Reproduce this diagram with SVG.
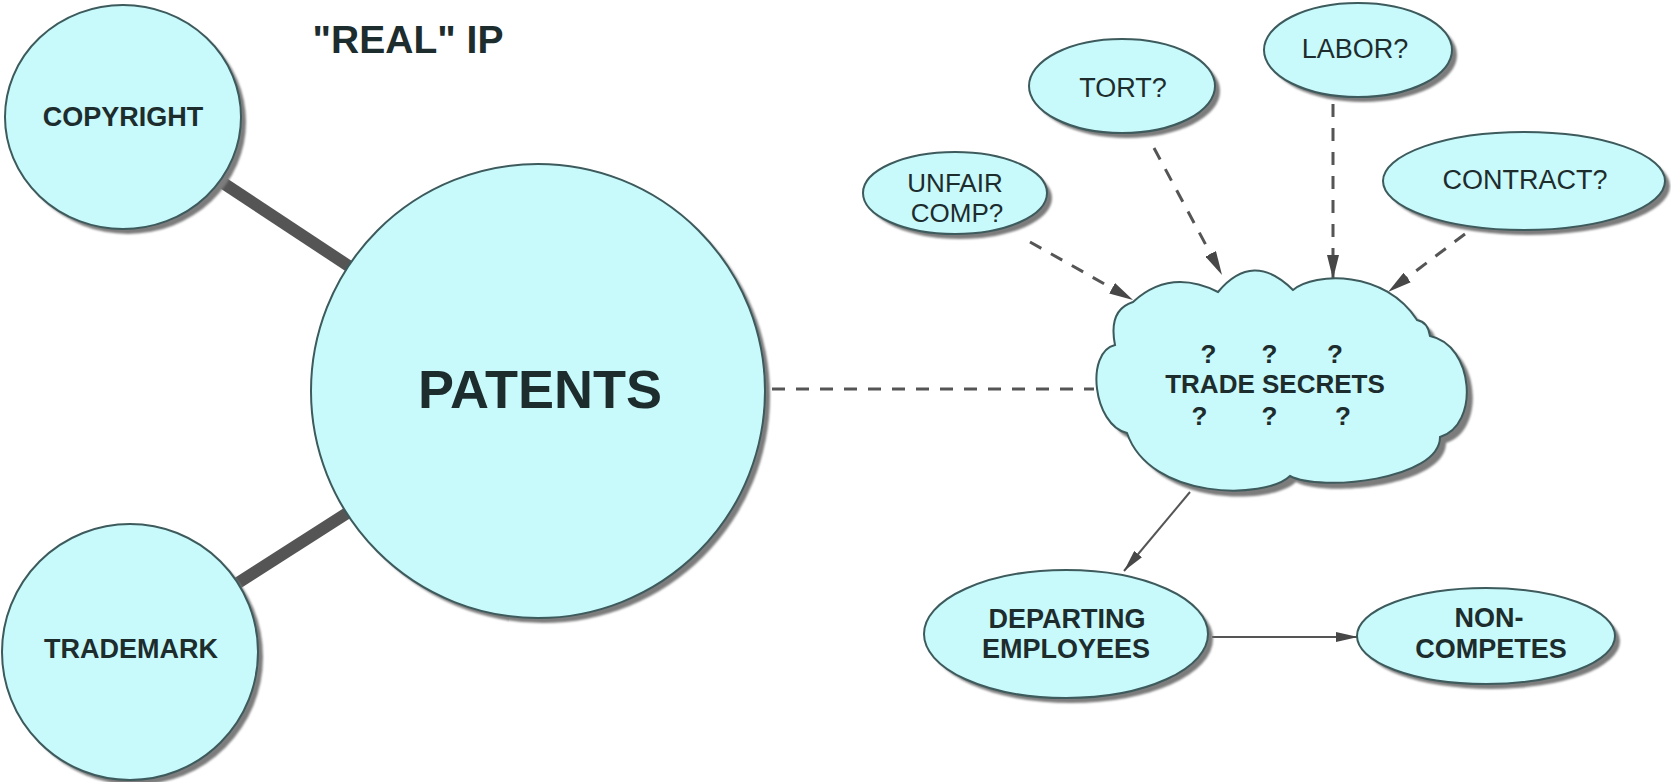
<svg xmlns="http://www.w3.org/2000/svg" width="1671" height="782" viewBox="0 0 1671 782">
  <style>
    .node { fill: #c8f9fb; stroke: #3d5a5c; stroke-width: 2; }
    .shadow { fill: #7b7b7b; filter: url(#soft); }
    .lbl { font-family: "Liberation Sans", Arial, sans-serif; fill: #1d2c2d; text-anchor: middle; }
    .b { font-weight: bold; }
    .thick { stroke: #555; stroke-width: 12; fill: none; }
    .dash { stroke: #555; stroke-width: 3; stroke-dasharray: 13 11; fill: none; }
    .solid { stroke: #555; stroke-width: 2; fill: none; }
  </style>
  <defs>
    <filter id="soft" x="-10%" y="-10%" width="120%" height="120%">
      <feGaussianBlur stdDeviation="1.3"/>
    </filter>
    <marker id="headDash" viewBox="0 0 24 12" refX="24" refY="6" markerWidth="24" markerHeight="12" markerUnits="userSpaceOnUse" orient="auto">
      <path d="M0,0 L24,6 L0,12 Z" fill="#474747"/>
    </marker>
    <marker id="headSolid" viewBox="0 0 22 10" refX="22" refY="5" markerWidth="22" markerHeight="10" markerUnits="userSpaceOnUse" orient="auto">
      <path d="M0,0 L22,5 L0,10 Z" fill="#474747"/>
    </marker>
    <path id="cloudShape" d="M1133,302 Q1170,268 1218,292 Q1253,250 1293,290 C1315,272 1385,270 1417,320 Q1428,322 1430,336 C1474,345 1480,425 1440,437 C1440,480 1320,492 1290,476 C1265,500 1150,500 1127,433 C1093,425 1085,352 1115,345 Q1108,310 1133,302 Z"/>
  </defs>

  <rect width="1671" height="782" fill="#ffffff"/>

  <!-- connectors -->
  <g id="connectors">
    <line class="thick" x1="123" y1="117" x2="538" y2="391"/>
    <line class="thick" x1="130" y1="652" x2="538" y2="391"/>
    <line class="dash" x1="772" y1="389" x2="1094" y2="389"/>
    <line class="dash" x1="1030" y1="242" x2="1133" y2="300" marker-end="url(#headDash)"/>
    <line class="dash" x1="1154" y1="148" x2="1222" y2="275" marker-end="url(#headDash)"/>
    <line class="dash" x1="1333" y1="104" x2="1333" y2="279" marker-end="url(#headDash)"/>
    <line class="dash" x1="1465" y1="234" x2="1388" y2="292" marker-end="url(#headDash)"/>
    <line class="solid" x1="1190" y1="492" x2="1124" y2="571" marker-end="url(#headSolid)"/>
    <line class="solid" x1="1212" y1="637" x2="1358" y2="637" marker-end="url(#headSolid)"/>
  </g>

  <!-- heading -->
  <text class="lbl b" x="408" y="53" font-size="39">"REAL" IP</text>

  <g id="copyright">
    <ellipse class="shadow" cx="128" cy="122" rx="118" ry="112"/>
    <ellipse class="node" cx="123" cy="117" rx="118" ry="112"/>
    <text class="lbl b" x="123" y="126" font-size="27">COPYRIGHT</text>
  </g>

  <g id="trademark">
    <circle class="shadow" cx="135" cy="657" r="128"/>
    <circle class="node" cx="130" cy="652" r="128"/>
    <text class="lbl b" x="131" y="658" font-size="27">TRADEMARK</text>
  </g>

  <g id="patents">
    <circle class="shadow" cx="543" cy="396" r="227"/>
    <circle class="node" cx="538" cy="391" r="227"/>
    <text class="lbl b" x="540" y="408" font-size="54" fill="#111">PATENTS</text>
  </g>

  <g id="trade-secrets">
    <use href="#cloudShape" class="shadow" transform="translate(6,6)"/>
    <use href="#cloudShape" class="node"/>
    <text class="lbl b" font-size="26">
      <tspan x="1212" y="363">?</tspan>
      <tspan x="1273" y="363">?</tspan>
      <tspan x="1335" y="363">?</tspan>
    </text>
    <text class="lbl b" x="1275" y="393" font-size="26">TRADE SECRETS</text>
    <text class="lbl b" font-size="26">
      <tspan x="1203" y="425">?</tspan>
      <tspan x="1273" y="425">?</tspan>
      <tspan x="1343" y="425">?</tspan>
    </text>
  </g>

  <g id="unfair-comp">
    <ellipse class="shadow" cx="960" cy="198" rx="92" ry="41"/>
    <ellipse class="node" cx="955" cy="193" rx="92" ry="41"/>
    <text class="lbl" x="955" y="192" font-size="26">UNFAIR</text>
    <text class="lbl" x="957" y="222" font-size="26">COMP?</text>
  </g>

  <g id="tort">
    <ellipse class="shadow" cx="1127" cy="91" rx="93" ry="47"/>
    <ellipse class="node" cx="1122" cy="86" rx="93" ry="47"/>
    <text class="lbl" x="1123" y="97" font-size="27">TORT?</text>
  </g>

  <g id="labor">
    <ellipse class="shadow" cx="1363" cy="55" rx="94" ry="47"/>
    <ellipse class="node" cx="1358" cy="50" rx="94" ry="47"/>
    <text class="lbl" x="1355" y="58" font-size="27">LABOR?</text>
  </g>

  <g id="contract">
    <ellipse class="shadow" cx="1529" cy="186" rx="141" ry="49"/>
    <ellipse class="node" cx="1524" cy="181" rx="141" ry="49"/>
    <text class="lbl" x="1525" y="189" font-size="27">CONTRACT?</text>
  </g>

  <g id="departing-employees">
    <ellipse class="shadow" cx="1071" cy="639" rx="142" ry="64"/>
    <ellipse class="node" cx="1066" cy="634" rx="142" ry="64"/>
    <text class="lbl b" x="1067" y="628" font-size="27">DEPARTING</text>
    <text class="lbl b" x="1066" y="658" font-size="27">EMPLOYEES</text>
  </g>

  <g id="non-competes">
    <ellipse class="shadow" cx="1491" cy="641" rx="129" ry="48"/>
    <ellipse class="node" cx="1486" cy="636" rx="129" ry="48"/>
    <text class="lbl b" x="1489" y="627" font-size="27">NON-</text>
    <text class="lbl b" x="1491" y="658" font-size="27">COMPETES</text>
  </g>
</svg>
